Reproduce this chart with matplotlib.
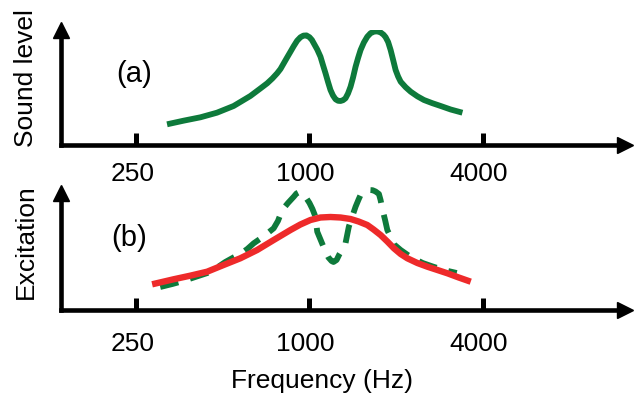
import matplotlib
matplotlib.use("Agg")
import matplotlib.pyplot as plt
from matplotlib.ticker import NullLocator
from matplotlib.transforms import ScaledTranslation

plt.rcParams['font.family'] = ['Liberation Sans', 'DejaVu Sans']

# values (level in arbitrary units)
tick_freqs = [250, 1000, 4000]
tick_labels = ['250', '1000', '4000']

# (a) sound level spectrum, two formant-like peaks
sound_freq = [320, 365, 418, 477, 545, 623, 675, 713, 743, 772, 793, 814, 836,
              859, 882, 906, 930, 953, 976, 1000, 1020, 1035, 1064, 1092, 1114,
              1137, 1160, 1183, 1207, 1232, 1257, 1282, 1308, 1334, 1361, 1389,
              1417, 1446, 1475, 1505, 1545, 1588, 1630, 1677, 1720, 1766, 1809,
              1839, 1876, 1914, 1953, 1992, 2032, 2074, 2158, 2247, 2370, 2499,
              2673, 2857, 3095, 3399]
sound_level = [20.7, 24.3, 27.7, 32.3, 39, 49, 56.5, 61.7, 66.5, 71.7, 76,
               81.7, 87.5, 93.3, 99, 104.3, 107.7, 109.4, 109.6, 107.8, 105,
               101.7, 95.5, 88.3, 80, 71.7, 63, 55, 49.5, 45.7, 44.2, 44, 44.8,
               46.7, 51.5, 58.3, 67.5, 78.3, 87, 95, 102.5, 108.3, 111.8, 113.4,
               113.6, 112.6, 110.3, 107.8, 103, 95, 85, 75, 68.5, 63.3, 57.8,
               53.3, 48.7, 45, 41.8, 39, 35.5, 32.3]

# (b) the same spectrum (dashed) and the smoothed excitation pattern (red)
spec_freq = [303, 334, 364, 401, 442, 475, 510, 544, 575, 608, 640, 692, 751,
             777, 804, 842, 882, 901, 923, 945, 968, 1000, 1024, 1049, 1064,
             1092, 1137, 1164, 1193, 1212, 1242, 1272, 1303, 1334, 1370, 1406,
             1446, 1481, 1505, 1554, 1608, 1657, 1697, 1743, 1766, 1795, 1831,
             1864, 1914, 1960, 2074, 2247, 2473, 2680, 2926, 3248]
spec_level = [23, 26, 29, 33, 37, 42, 48, 52.5, 56, 61, 66.7, 73.5, 81.7, 89,
              100, 107, 113.3, 116.5, 118, 116.8, 113.3, 107, 101, 93.3, 78.3,
              70.5, 58.3, 52.5, 49, 48, 50, 56, 61, 66.7, 83.3, 93, 103.3,
              110.5, 115, 118.5, 120, 119.8, 118.5, 116, 110, 100, 90, 80, 73,
              66, 60, 53, 47, 43.5, 40, 37]

exc_freq = [284, 337, 385, 441, 503, 575, 658, 751, 859, 930, 1008, 1092, 1183,
            1282, 1389, 1481, 1588, 1670, 1766, 1864, 1965, 2074, 2188, 2370,
            2568, 2783, 3015, 3300, 3633]
exc_level = [25.7, 30.7, 34.3, 38.3, 45, 51.7, 60, 70, 80, 85.5, 90, 92.5, 93,
             92.5, 91, 88.5, 85, 80.5, 75, 68.5, 61.7, 56, 51.7, 47, 43.3, 40,
             36.7, 32.5, 28.3]

GREEN = '#0e7a3b'
RED = '#ee2a2a'
W, H = 634, 396


def fx(px):
    return px / W


def fy(py):
    return 1 - py / H


fig = plt.figure(figsize=(W / 100, H / 100), dpi=100)

ax_a = fig.add_axes([fx(61), fy(145), fx(625) - fx(61), fy(30) - fy(145)])
ax_b = fig.add_axes([fx(61), fy(310), fx(625) - fx(61), fy(193) - fy(310)])

ax_a.plot(sound_freq, sound_level, color=GREEN, lw=4.2,
          solid_joinstyle='round', solid_capstyle='butt')
ax_b.plot(spec_freq, spec_level, color=GREEN, lw=4.2, dashes=(3.2, 2.1),
          dash_joinstyle='round', dash_capstyle='butt', clip_on=False)
ax_b.plot(exc_freq, exc_level, color=RED, lw=4.6,
          solid_joinstyle='round', solid_capstyle='butt', clip_on=False)

label_pads = [12.5, 16]
for ax, top, pad in [(ax_a, 115, label_pads[0]), (ax_b, 117, label_pads[1])]:
    ax.set_xscale('log')
    ax.set_xlim(137, 12480)
    ax.set_ylim(0, top)
    ax.spines['top'].set_visible(False)
    ax.spines['right'].set_visible(False)
    for s in ('left', 'bottom'):
        ax.spines[s].set_linewidth(3.3)
        ax.spines[s].set_color('black')
    ax.set_yticks([])
    ax.set_xticks(tick_freqs)
    ax.set_xticklabels(tick_labels)
    ax.xaxis.set_minor_locator(NullLocator())
    ax.tick_params(axis='x', direction='in', length=8.4, width=3.6,
                   pad=pad, labelsize=19)
    shift = ScaledTranslation(-0.04, 0, fig.dpi_scale_trans)
    for lab in ax.get_xticklabels():
        lab.set_transform(lab.get_transform() + shift)
    # arrow heads at the ends of the axes
    ax.plot([1], [0], marker='>', ms=11.5, color='black',
            transform=ax.transAxes, clip_on=False)
    ax.plot([0], [1], marker='^', ms=11.5, color='black',
            transform=ax.transAxes, clip_on=False)
    ax.patch.set_visible(False)

fig.text(fx(26), fy(78), 'Sound level', rotation=90, ha='center',
         va='center', fontsize=19)
fig.text(fx(26), fy(242), 'Excitation', rotation=90, ha='center',
         va='center', fontsize=19)
fig.text(fx(134), fy(74.5), '(a)', ha='center', va='center', fontsize=21)
fig.text(fx(129), fy(238), '(b)', ha='center', va='center', fontsize=21)
fig.text(fx(321.7), fy(388), 'Frequency (Hz)', ha='center',
         va='baseline', fontsize=19)

fig.savefig('out.png', dpi=100)
